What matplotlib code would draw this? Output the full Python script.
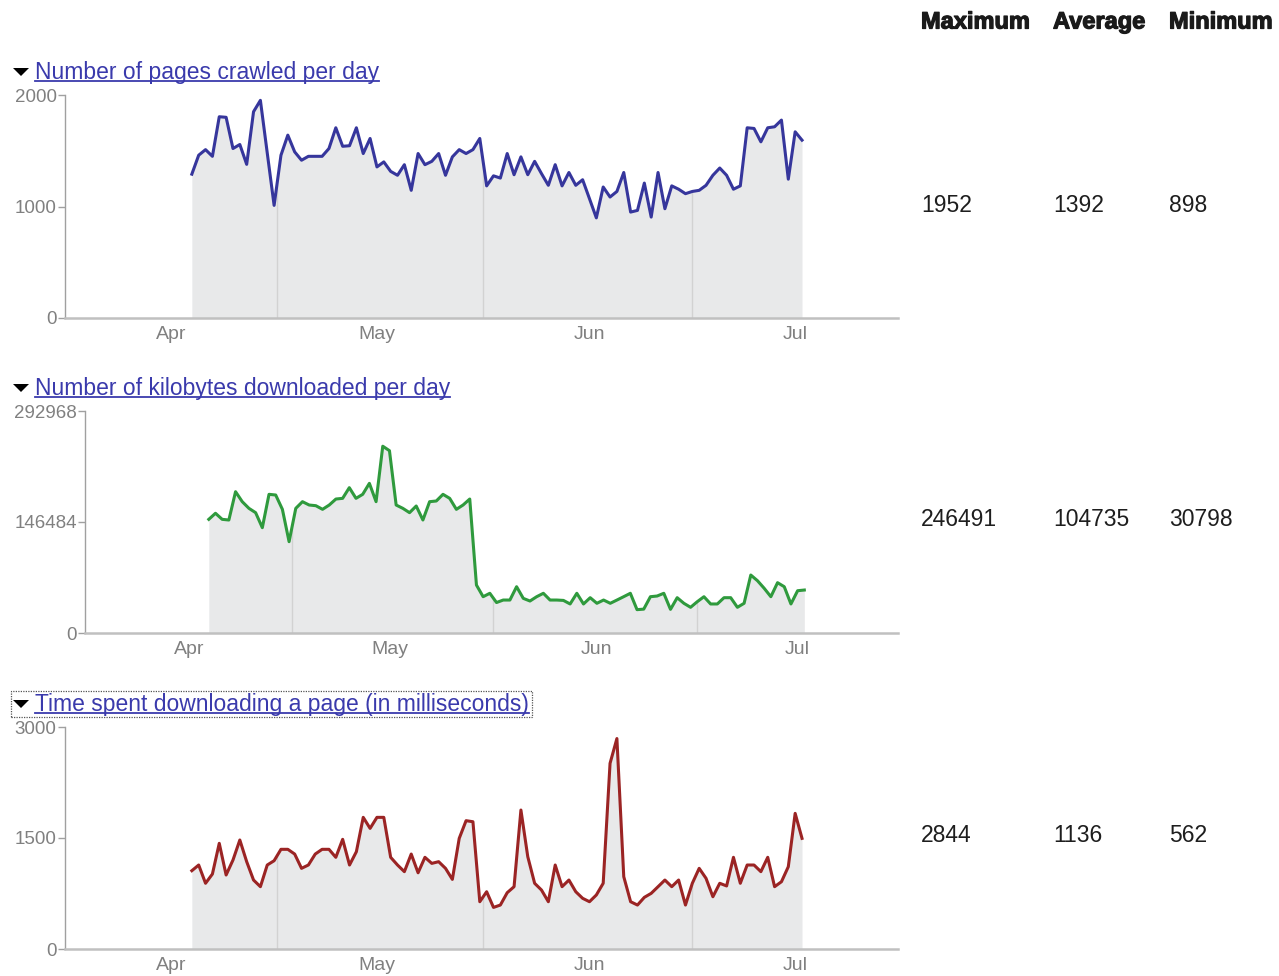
import numpy as np
import matplotlib.pyplot as plt
import matplotlib.patheffects as pe
from matplotlib.patches import Rectangle, Polygon
from matplotlib.lines import Line2D

plt.rcParams['font.family'] = ['Liberation Sans', 'DejaVu Sans']

# one value per day, Apr 4 .. Jul 2
days = np.arange('2009-04-04', '2009-07-03', dtype='datetime64[D]')

pages = [1290, 1460, 1510, 1450, 1805, 1800, 1520, 1556, 1378, 1850,
         1952, 1480, 1010, 1460, 1640, 1490, 1415, 1450, 1450, 1450,
         1520, 1706, 1540, 1545, 1706, 1475, 1610, 1355, 1400, 1315,
         1280, 1375, 1145, 1475, 1375, 1405, 1475, 1280, 1445, 1510,
         1475, 1510, 1610, 1185, 1275, 1255, 1475, 1285, 1445, 1285,
         1405, 1295, 1190, 1375, 1185, 1305, 1190, 1240, 1070, 898,
         1175, 1085, 1135, 1305, 950, 965, 1210, 905, 1305, 980,
         1185, 1155, 1115, 1135, 1145, 1190, 1280, 1345, 1280, 1155,
         1185, 1706, 1700, 1580, 1706, 1715, 1775, 1245, 1670, 1595]

kbytes = [150000, 158000, 150000, 149100, 186500, 173300, 164500, 158800, 139000, 183000,
          182100, 163200, 120500, 164500, 173300, 168900, 168000, 163200, 168900, 176800,
          177700, 191800, 177700, 183000, 197500, 173300, 246491, 240600, 168900, 164500,
          158800, 167600, 149100, 173300, 174200, 183000, 177700, 163200, 168900, 176800,
          63300, 47900, 52400, 40200, 43500, 43500, 61100, 45700, 42200, 47900,
          52400, 43500, 43500, 43000, 38300, 52400, 38300, 46600, 39200, 43500,
          39200, 43500, 47900, 52400, 30798, 31500, 47900, 48800, 52400, 31200,
          46600, 39200, 33900, 41300, 47900, 38300, 38300, 46600, 46600, 33900,
          39200, 76500, 69000, 59000, 47900, 66400, 61100, 38300, 55800, 56700]

millis = [1058, 1135, 888, 1013, 1428, 1000, 1202, 1473, 1180, 932,
          842, 1135, 1193, 1347, 1347, 1283, 1090, 1135, 1283, 1347,
          1347, 1239, 1482, 1135, 1315, 1779, 1630, 1779, 1779, 1239,
          1135, 1045, 1283, 1030, 1239, 1157, 1180, 1090, 941, 1495,
          1734, 1720, 639, 774, 562, 594, 761, 842, 1878, 1247,
          888, 797, 639, 1135, 842, 932, 774, 685, 639, 730,
          888, 2509, 2844, 977, 639, 594, 698, 752, 842, 932,
          842, 932, 594, 888, 1090, 955, 706, 888, 852, 1239,
          888, 1135, 1135, 1045, 1239, 842, 909, 1112, 1833, 1495]

titles = ['Number of pages crawled per day',
          'Number of kilobytes downloaded per day',
          'Time spent downloading a page (in milliseconds)']
colors = ['#36369c', '#2f9a3d', '#9b2424']
yticks = [[0, 1000, 2000], [0, 146484, 292968], [0, 1500, 3000]]
headers = ['Maximum', 'Average', 'Minimum']
stats = [['1952', '1392', '898'],
         ['246491', '104735', '30798'],
         ['2844', '1136', '562']]
month_ticks = np.array(['2009-04-01', '2009-05-01', '2009-06-01', '2009-07-01'], dtype='datetime64[D]')
month_labels = ['Apr', 'May', 'Jun', 'Jul']
marks = np.array(['2009-04-16T10', '2009-05-16T12', '2009-06-16T00'], dtype='datetime64[h]')
xstart, xend = np.datetime64('2009-03-16T12'), np.datetime64('2009-07-16T00')

W, H = 1279, 976
fig = plt.figure(figsize=(W / 100, H / 100), dpi=100)

# pixel boxes: left, top, right, bottom
boxes = [(65, 95, 898, 318), (85, 411, 898, 633), (65, 727, 898, 949)]
title_y = [72, 388, 704]
stat_y = [205, 520, 836]
col_x = [921, 1053, 1169]

link = '#3a3aac'
series = [pages, kbytes, millis]
title_texts = []

for i, vals in enumerate(series):
    l, t, r, b = boxes[i]
    ax = fig.add_axes([l / W, 1 - b / H, (r - l) / W, (b - t) / H])
    vals = np.array(vals, dtype=float)
    ax.fill_between(days, vals, 0, color='#e8e9ea', lw=0)
    # thin separators inside the filled area
    dnum = days.astype('datetime64[h]').astype(float)
    mnum = marks.astype(float)
    ax.vlines(marks, 0, np.interp(mnum, dnum, vals), color='#d2d2d2', lw=1)
    ax.plot(days, vals, color=colors[i], lw=2.2, solid_joinstyle='round')

    ax.set_xlim(xstart, xend)
    ax.set_ylim(0, yticks[i][-1])
    ax.set_yticks(yticks[i])
    ax.set_yticklabels([str(v) for v in yticks[i]])
    ax.set_xticks(month_ticks)
    ax.set_xticklabels(month_labels)
    for s in ['top', 'right']:
        ax.spines[s].set_visible(False)
    ax.spines['left'].set_color('#a0a0a0')
    ax.spines['left'].set_linewidth(1)
    ax.spines['bottom'].set_color('#c0c0c0')
    ax.spines['bottom'].set_linewidth(1.8)
    ax.tick_params(axis='y', length=5, width=1, color='#a0a0a0', labelsize=13.5,
                   labelcolor='#808080', pad=1)
    ax.tick_params(axis='x', length=0, labelsize=14, labelcolor='#808080', pad=6)
    ax.patch.set_alpha(0)

    # small black disclosure triangle before the link
    ty = title_y[i]
    fig.add_artist(Polygon([(13 / W, 1 - (ty - 4) / H), (29 / W, 1 - (ty - 4) / H),
                            (21 / W, 1 - (ty + 4) / H)], closed=True, fc='black', ec='none',
                           transform=fig.transFigure))
    tt = fig.text(35 / W, 1 - ty / H, titles[i], fontsize=16.5, color=link,
                  va='center', ha='left')
    title_texts.append(tt)

    for j, v in enumerate(stats[i]):
        fig.text(col_x[j] / W, 1 - stat_y[i] / H, v, fontsize=16.5, color='#1e1e1e',
                 va='center', ha='left')

for j, h in enumerate(headers):
    fig.text(col_x[j] / W, 1 - 22 / H, h, fontsize=17, fontweight='bold',
             color='#1a1a1a', va='center', ha='left',
             path_effects=[pe.withStroke(linewidth=0.9, foreground='#1a1a1a')])

# underline the link titles, dotted focus box round the last one
fig.canvas.draw()
for k, tt in enumerate(title_texts):
    bb = tt.get_window_extent()
    y = bb.y0 + 3
    fig.add_artist(Line2D([bb.x0 / W, bb.x1 / W], [y / H, y / H], color=link, lw=1.3,
                          transform=fig.transFigure))
    if k == 2:
        x0, x1 = 11, bb.x1 + 3
        y0, y1 = bb.y0 - 1, bb.y1 + 2
        fig.add_artist(Rectangle((x0 / W, y0 / H), (x1 - x0) / W, (y1 - y0) / H,
                                 fill=False, ls=(0, (1, 1)), lw=0.9, ec='#555555',
                                 transform=fig.transFigure))

fig.savefig('out.png', dpi=100)
